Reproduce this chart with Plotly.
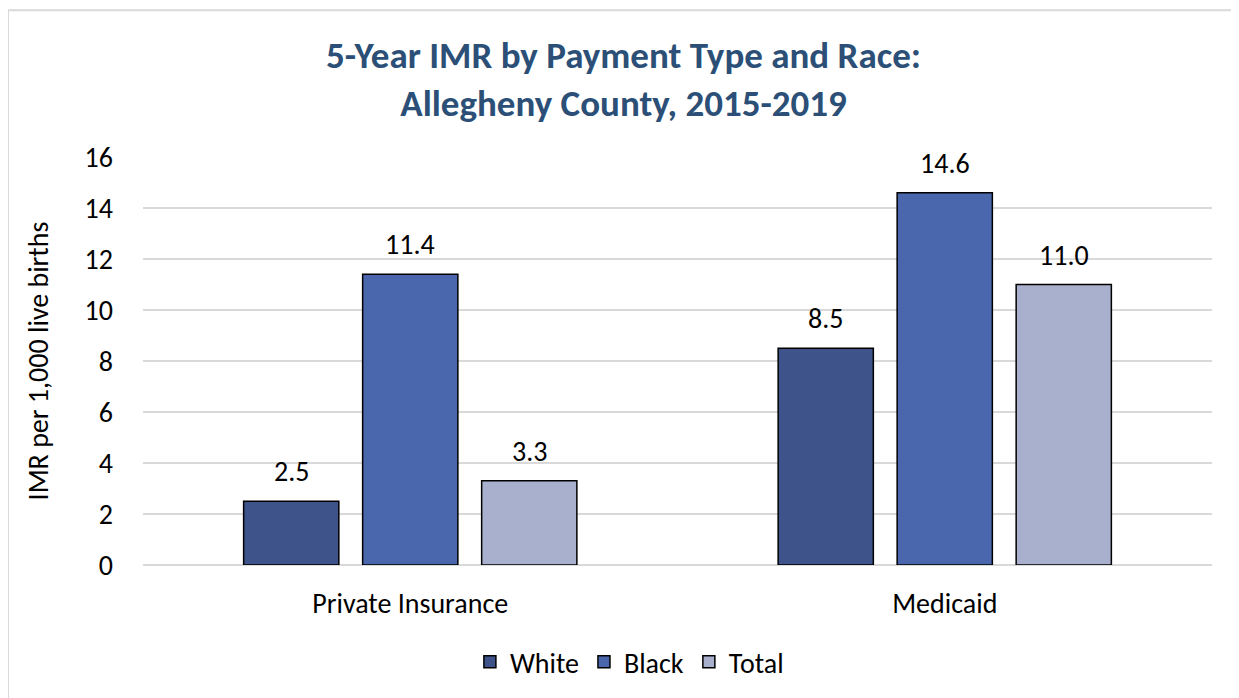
import plotly.graph_objects as go

categories = ["Private Insurance", "Medicaid"]
series_names = ["White", "Black", "Total"]
white = [2.5, 8.5]
black = [11.4, 14.6]
total = [3.3, 11.0]
colors = ["#3D5389", "#4A67AE", "#A9B0CE"]
tick_vals = [0, 2, 4, 6, 8, 10, 12, 14, 16]

FONT = "Carlito, Calibri, Lato, sans-serif"

# layout geometry (pixels)
W, H = 1231, 690
ML, MR, MT, MB = 135, 27, 149, 132
BARGAP, BARGROUPGAP = 0.332, 0.2
plot_w = W - ML - MR
slot_px = plot_w / len(categories) * (1 - BARGAP) / len(series_names)

fig = go.Figure()
annotations = []
for i, (name, vals, col) in enumerate(zip(series_names, [white, black, total], colors)):
    fig.add_trace(go.Bar(
        name=name, x=categories, y=vals,
        marker=dict(color=col, line=dict(color="#000000", width=1.5)),
        cliponaxis=False,
    ))
    for cat, v in zip(categories, vals):
        annotations.append(dict(
            x=cat, y=v, xref="x", yref="y", text=f"{v:.1f}", showarrow=False,
            xshift=(i - (len(series_names) - 1) / 2) * slot_px, yshift=10,
            yanchor="bottom", font=dict(size=28, color="#000000", family=FONT),
        ))

fig.update_layout(
    width=W, height=H,
    paper_bgcolor="white", plot_bgcolor="white",
    barmode="group", bargap=BARGAP, bargroupgap=BARGROUPGAP,
    margin=dict(l=ML, r=MR, t=MT, b=MB),
    font=dict(family=FONT, size=28, color="#000000"),
    title=dict(
        text="<b>5-Year IMR by Payment Type and Race:<br>Allegheny County, 2015-2019</b>",
        x=0.5, xanchor="center", y=0.913, yanchor="top",
        font=dict(size=37, color="#2B4F76", family=FONT),
    ),
    yaxis=dict(
        range=[0, 16], tickvals=tick_vals, showgrid=True,
        gridcolor="#D9D9D9", gridwidth=1.5, zeroline=True,
        zerolinecolor="#D9D9D9", zerolinewidth=1.5,
        showline=False, ticks="", ticklabelstandoff=29,
        tickfont=dict(size=28),
        title=dict(text="IMR per 1,000 live births", font=dict(size=28), standoff=27),
    ),
    xaxis=dict(showline=False, ticks="", tickfont=dict(size=28), ticklabelstandoff=19),
    legend=dict(
        orientation="h", x=0.455, xanchor="center", y=-0.235, yanchor="middle",
        font=dict(size=28), itemwidth=30, traceorder="normal",
    ),
    showlegend=True,
    annotations=annotations,
    shapes=[dict(
        type="rect", xref="paper", yref="paper",
        x0=-0.1263, y0=-0.6, x1=1.2, y1=1.3594,
        line=dict(color="#D9D9D9", width=2), fillcolor="rgba(0,0,0,0)",
        layer="below",
    )],
)

fig.write_html("out.html")
